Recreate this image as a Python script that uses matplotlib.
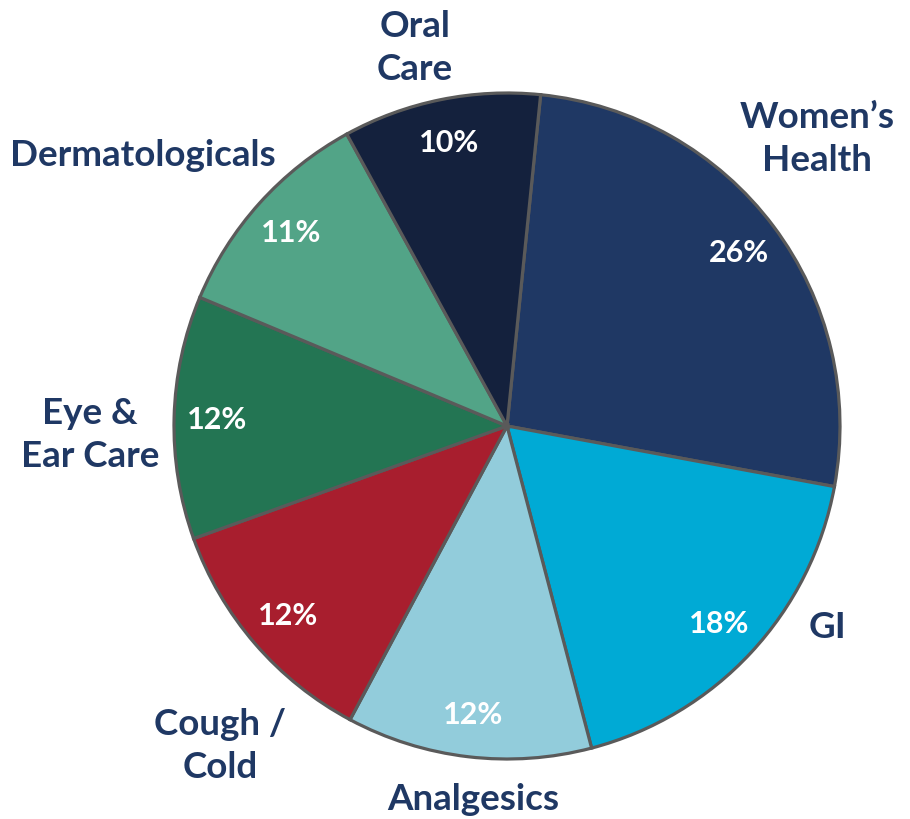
import numpy as np
import matplotlib
matplotlib.use('Agg')
import matplotlib.pyplot as plt

plt.rcParams['font.family'] = ['Lato', 'DejaVu Sans']

# share by category, clockwise from the top
categories = ["Women\u2019s\nHealth", "GI", "Analgesics", "Cough /\nCold",
              "Eye &\nEar Care", "Dermatologicals", "Oral\nCare"]
shares = [26.3, 18.0, 11.9, 11.7, 11.8, 10.7, 9.6]
colors = ['#1F3864', '#00AAD5', '#92CCDB', '#A81E2E', '#237553', '#52A487', '#14213D']

# label centres in pixel coords (y measured from top)
label_pos = [(817, 139), (827, 628), (473, 800), (220, 746),
             (90, 435), (143, 155), (415, 48)]

W, H = 910, 820
fig = plt.figure(figsize=(W / 100, H / 100), dpi=100)
ax = fig.add_axes([0, 0, 1, 1])
ax.set_aspect('equal')
ax.axis('off')

wedges, texts, autotexts = ax.pie(
    shares, colors=colors, startangle=84.2, counterclock=False,
    center=(507, H - 427), radius=333, autopct='%.0f%%', pctdistance=0.87,
    wedgeprops=dict(edgecolor='#5a5a5a', linewidth=2.3),
    textprops=dict(color='white', fontsize=22, fontweight='bold'))

ax.set_xlim(0, W)
ax.set_ylim(0, H)

for name, (x, y) in zip(categories, label_pos):
    ax.text(x, H - y, name, ha='center', va='center', fontsize=26.5,
            fontweight='bold', color='#1F3864', linespacing=1.38)

fig.savefig('out.png', dpi=100)
